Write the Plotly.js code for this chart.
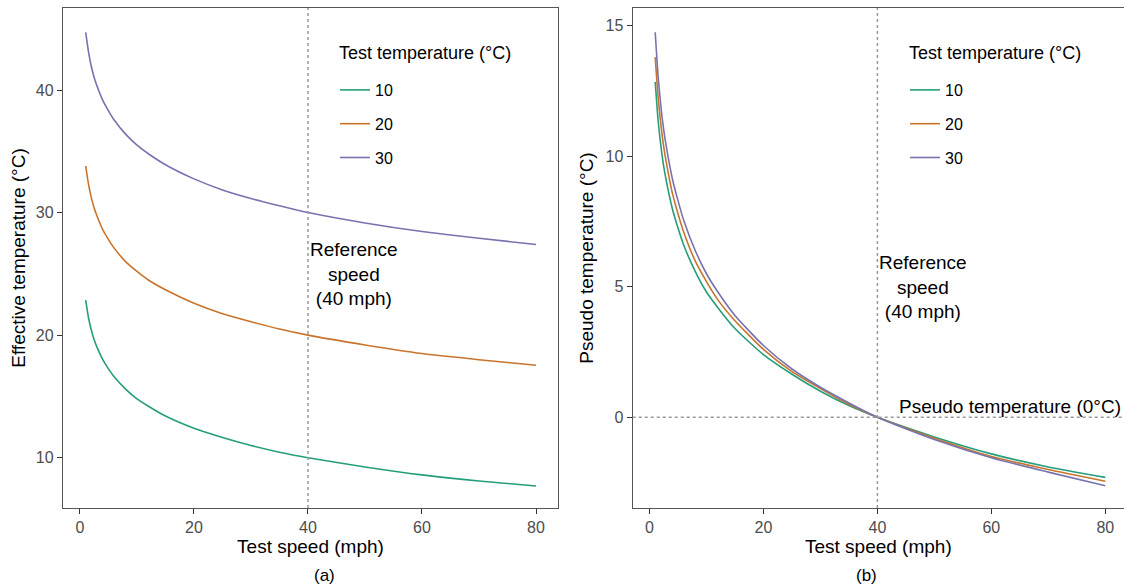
<!DOCTYPE html>
<html>
<head>
<meta charset="utf-8">
<script src="https://cdn.plot.ly/plotly-3.0.1.min.js"></script>
<style>html,body{margin:0;padding:0;background:#fff;}#chart{width:1124px;height:588px;}</style>
</head>
<body>
<div id="chart"></div>
<script>
// Test speed (mph)
const speed = [1, 1.5, 2, 2.5, 3, 4, 5, 6, 8, 10, 12, 15, 20, 25, 30, 35, 40, 50, 60, 70, 80];

// Panel (a): effective temperature (°C) by test temperature
const eff10 = [22.85, 21.4, 20.4, 19.6, 19.0, 18.0, 17.25, 16.6, 15.6, 14.8, 14.2, 13.4, 12.4, 11.65, 11.0, 10.45, 10.0, 9.25, 8.6, 8.1, 7.7];
const eff20 = [33.8, 32.3, 31.2, 30.35, 29.7, 28.6, 27.8, 27.1, 26.0, 25.2, 24.5, 23.7, 22.6, 21.75, 21.1, 20.5, 20.0, 19.2, 18.5, 18.0, 17.55];
const eff30 = [44.7, 43.1, 41.9, 41.0, 40.3, 39.15, 38.3, 37.55, 36.4, 35.5, 34.8, 33.9, 32.75, 31.85, 31.15, 30.55, 30.0, 29.15, 28.45, 27.9, 27.4];

// Panel (b): pseudo temperature (°C) by test temperature
const pseudo10 = [12.85, 11.4, 10.4, 9.6, 9.0, 8.0, 7.25, 6.6, 5.6, 4.8, 4.2, 3.4, 2.4, 1.65, 1.0, 0.45, 0.0, -0.75, -1.4, -1.9, -2.3];
const pseudo20 = [13.8, 12.3, 11.2, 10.35, 9.7, 8.6, 7.8, 7.1, 6.0, 5.2, 4.5, 3.7, 2.6, 1.75, 1.1, 0.5, 0.0, -0.8, -1.5, -2.0, -2.45];
const pseudo30 = [14.75, 13.1, 11.9, 11.0, 10.3, 9.15, 8.3, 7.55, 6.4, 5.5, 4.8, 3.9, 2.75, 1.85, 1.15, 0.55, 0.0, -0.85, -1.55, -2.1, -2.62];

const seriesNames = ['10', '20', '30'];
const colors = ['#249E7C', '#C9742C', '#7773AF'];
const effSeries = [eff10, eff20, eff30];
const pseudoSeries = [pseudo10, pseudo20, pseudo30];

const font = 'Liberation Sans, Arial, sans-serif';
const traces = [];
effSeries.forEach((ys, i) => {
  traces.push({
    x: speed, y: ys, type: 'scatter', mode: 'lines', name: seriesNames[i],
    line: {color: colors[i], width: 1.6, shape: 'spline', smoothing: 0.6},
    xaxis: 'x', yaxis: 'y', legend: 'legend', legendgroup: 'a' + i
  });
});
pseudoSeries.forEach((ys, i) => {
  traces.push({
    x: speed, y: ys, type: 'scatter', mode: 'lines', name: seriesNames[i],
    line: {color: colors[i], width: 1.6, shape: 'spline', smoothing: 0.6},
    xaxis: 'x2', yaxis: 'y2', legend: 'legend2', legendgroup: 'b' + i
  });
});

const titleFont = {family: font, size: 19, color: '#000'};
const axisCommon = {
  showgrid: false, zeroline: false, showline: true, linecolor: '#555', linewidth: 1.2,
  ticks: 'outside', ticklen: 5, tickwidth: 1, tickcolor: '#333',
  tickfont: {family: font, size: 16, color: '#4D4D4D'}
};

const legendCommon = {
  bgcolor: 'rgba(0,0,0,0)', xanchor: 'left', yanchor: 'top',
  font: {family: font, size: 16, color: '#000'},
  tracegroupgap: 10
};

const layout = {
  width: 1124, height: 588,
  margin: {l: 0, r: 0, t: 8, b: 80},
  paper_bgcolor: '#fff', plot_bgcolor: '#fff',
  font: {family: font},
  xaxis: Object.assign({}, axisCommon, {
    domain: [63 / 1124, 558 / 1124], range: [-2.98, 83.86], tickvals: [0, 20, 40, 60, 80],
    mirror: true, anchor: 'y',
    title: {text: 'Test speed (mph)', font: titleFont, standoff: 4}
  }),
  yaxis: Object.assign({}, axisCommon, {
    domain: [0, 1], range: [5.9, 46.69], tickvals: [10, 20, 30, 40],
    mirror: true, anchor: 'x',
    title: {text: 'Effective temperature (°C)', font: titleFont, standoff: 5}
  }),
  xaxis2: Object.assign({}, axisCommon, {
    domain: [632.7 / 1124, 1], range: [-2.95, 83.28], tickvals: [0, 20, 40, 60, 80],
    mirror: true, anchor: 'y2',
    title: {text: 'Test speed (mph)', font: titleFont, standoff: 4}
  }),
  yaxis2: Object.assign({}, axisCommon, {
    domain: [0, 1], range: [-3.474, 15.68], tickvals: [0, 5, 10, 15],
    mirror: false, anchor: 'x2',
    title: {text: 'Pseudo temperature (°C)', font: titleFont, standoff: 6}
  }),
  legend: Object.assign({}, legendCommon, {x: 335 / 1124, y: (508 - 73) / 500}),
  legend2: Object.assign({}, legendCommon, {x: 905 / 1124, y: (508 - 73) / 500}),
  shapes: [
    {type: 'line', xref: 'x', yref: 'y domain', x0: 40, x1: 40, y0: 0, y1: 1,
     line: {color: '#999', width: 1.5, dash: 'dot'}},
    {type: 'line', xref: 'x2', yref: 'y2 domain', x0: 40, x1: 40, y0: 0, y1: 1,
     line: {color: '#999', width: 1.5, dash: 'dot'}},
    {type: 'line', xref: 'x2 domain', yref: 'y2', x0: 0, x1: 1, y0: 0, y1: 0,
     line: {color: '#999', width: 1.5, dash: 'dot'}}
  ],
  annotations: [
    {xref: 'paper', yref: 'paper', x: 337 / 1124, y: (508 - 53) / 500, xanchor: 'left', yanchor: 'middle',
     text: 'Test temperature (°C)', showarrow: false, font: {family: font, size: 18, color: '#000'}},
    {xref: 'paper', yref: 'paper', x: 907 / 1124, y: (508 - 53) / 500, xanchor: 'left', yanchor: 'middle',
     text: 'Test temperature (°C)', showarrow: false, font: {family: font, size: 18, color: '#000'}},
    {xref: 'x', yref: 'y', x: 48, y: 25, text: 'Reference<br>speed<br>(40 mph)', showarrow: false,
     align: 'center', font: {family: font, size: 19, color: '#000'}},
    {xref: 'x2', yref: 'y2', x: 48, y: 5, text: 'Reference<br>speed<br>(40 mph)', showarrow: false,
     align: 'center', font: {family: font, size: 19, color: '#000'}},
    {xref: 'x2', yref: 'y2', x: 43.4, y: 0.43, xanchor: 'left', yanchor: 'middle',
     text: 'Pseudo temperature (0°C)', showarrow: false, font: {family: font, size: 19, color: '#000'}},
    {xref: 'paper', yref: 'paper', x: 311.5 / 1124, y: -0.134, yanchor: 'middle', text: '(a)', showarrow: false,
     font: {family: font, size: 17, color: '#000'}},
    {xref: 'paper', yref: 'paper', x: 879 / 1124, y: -0.134, yanchor: 'middle', text: '(b)', showarrow: false,
     font: {family: font, size: 17, color: '#000'}}
  ],
  showlegend: true
};

Plotly.newPlot('chart', traces, layout, {displayModeBar: false, staticPlot: true});
</script>
</body>
</html>
